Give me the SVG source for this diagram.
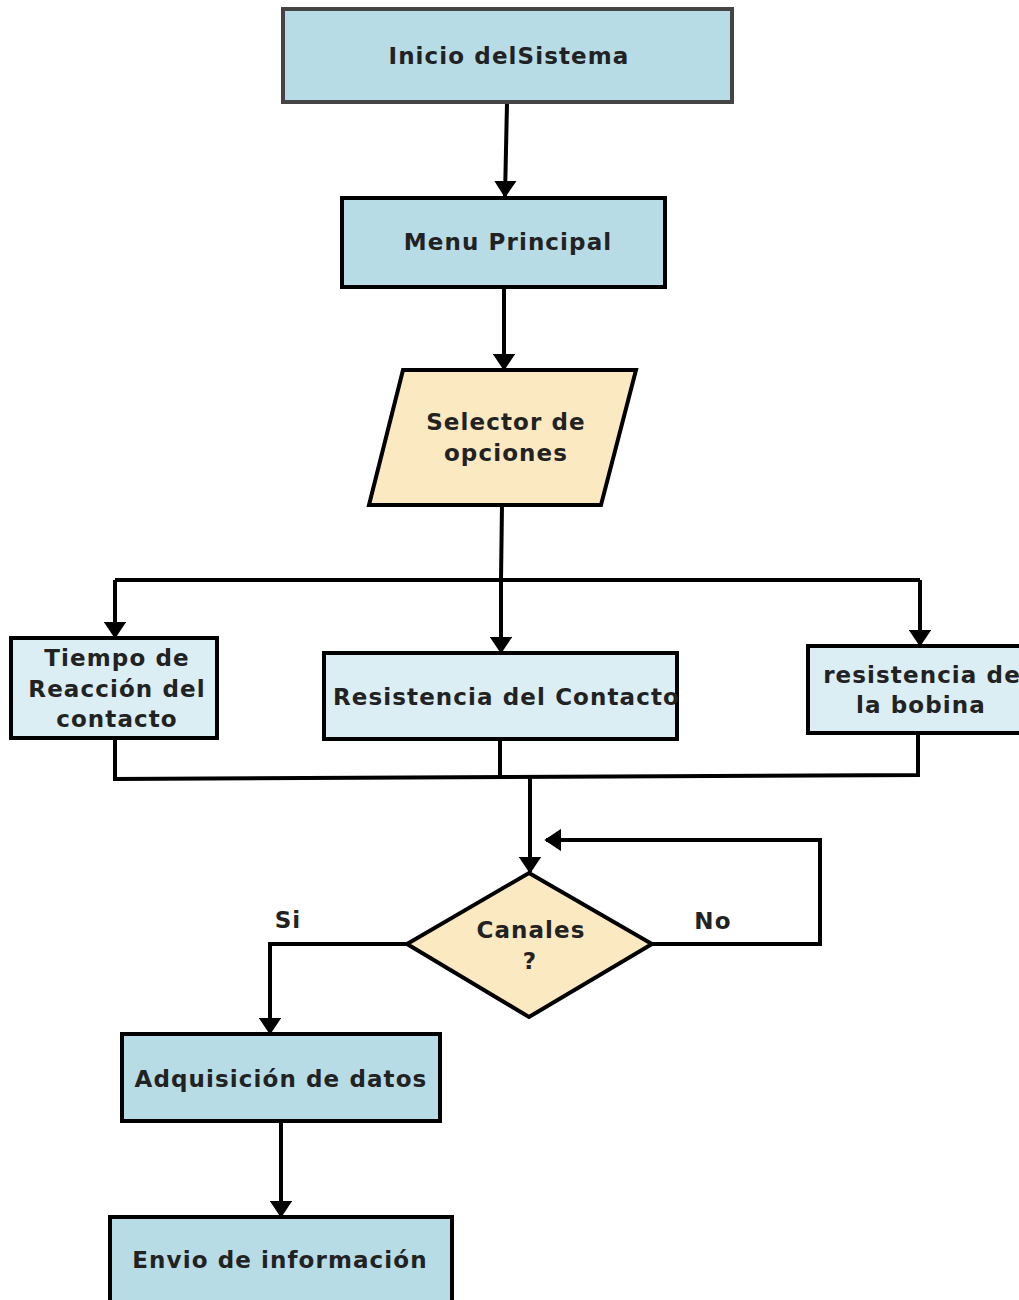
<svg xmlns="http://www.w3.org/2000/svg" width="1019" height="1300" viewBox="0 0 1019 1300">
  <style>
    .lbl { font-family: "DejaVu Sans", Verdana, sans-serif; font-weight: bold; font-size: 23px; letter-spacing: 1.1px; fill: #222; text-anchor: middle; }
    .box { fill: #b7dce6; stroke: #000; stroke-width: 4; }
    .boxl { fill: #daeef4; stroke: #000; stroke-width: 4; }
    .dec { fill: #fbe9c2; stroke: #000; stroke-width: 4; }
    .ln { fill: none; stroke: #000; stroke-width: 4; }
  </style>
  <defs>
    <marker id="arr" viewBox="0 0 10 10" refX="9" refY="5" markerWidth="4.2" markerHeight="5.6" markerUnits="strokeWidth" orient="auto" preserveAspectRatio="none">
      <path d="M0,0 L10,5 L0,10 z" fill="#000"/>
    </marker>
  </defs>
  <rect width="1019" height="1300" fill="#fff"/>

  <g id="connectors">
    <path class="ln" d="M507,103 L505,196" marker-end="url(#arr)"/>
    <path class="ln" d="M504,287 L504,369" marker-end="url(#arr)"/>
    <path class="ln" d="M502,505 L501,580"/>
    <path class="ln" d="M115,580 L920,580"/>
    <path class="ln" d="M115,580 L115,637" marker-end="url(#arr)"/>
    <path class="ln" d="M501,580 L501,652" marker-end="url(#arr)"/>
    <path class="ln" d="M920,580 L920,645" marker-end="url(#arr)"/>
    <path class="ln" d="M115,738 L115,779 L918,775 L918,733"/>
    <path class="ln" d="M500,739 L500,777"/>
    <path class="ln" d="M530,778 L530,872" marker-end="url(#arr)"/>
    <path class="ln" d="M652,944 L820,944 L820,840 L546,840" marker-end="url(#arr)"/>
    <path class="ln" d="M407,944 L270,944 L270,1033" marker-end="url(#arr)"/>
    <path class="ln" d="M281,1121 L281,1216" marker-end="url(#arr)"/>
  </g>

  <g id="inicio">
    <rect x="283" y="9" width="449" height="93" fill="#b7dce6" stroke="#444" stroke-width="4"/>
    <text class="lbl" x="509" y="64">Inicio delSistema</text>
  </g>

  <g id="menu">
    <rect class="box" x="342" y="198" width="323" height="89"/>
    <text class="lbl" x="508" y="250">Menu Principal</text>
  </g>

  <g id="selector">
    <polygon class="dec" points="403,370 636,370 601,505 369,505"/>
    <text class="lbl" x="506" y="430">Selector de</text>
    <text class="lbl" x="506" y="461">opciones</text>
  </g>

  <g id="tiempo">
    <rect class="boxl" x="11" y="638" width="206" height="100"/>
    <text class="lbl" x="117" y="666">Tiempo de</text>
    <text class="lbl" x="117" y="697">Reacción del</text>
    <text class="lbl" x="117" y="727">contacto</text>
  </g>

  <g id="contacto">
    <rect class="boxl" x="324" y="653" width="353" height="86"/>
    <text class="lbl" x="333" y="705" style="text-anchor:start">Resistencia del Contacto</text>
  </g>

  <g id="bobina">
    <rect class="boxl" x="808" y="646" width="216" height="87"/>
    <text class="lbl" x="922" y="683">resistencia de</text>
    <text class="lbl" x="921" y="713">la bobina</text>
  </g>

  <g id="canales">
    <polygon class="dec" points="529,873 652,944 529,1017 407,944"/>
    <text class="lbl" x="531" y="938">Canales</text>
    <text class="lbl" x="530" y="969">?</text>
  </g>

  <g id="labels">
    <text class="lbl" x="288" y="928">Si</text>
    <text class="lbl" x="713" y="929">No</text>
  </g>

  <g id="adquisicion">
    <rect class="box" x="122" y="1034" width="318" height="87"/>
    <text class="lbl" x="281" y="1087">Adquisición de datos</text>
  </g>

  <g id="envio">
    <rect class="box" x="110" y="1217" width="342" height="95"/>
    <text class="lbl" x="280" y="1268">Envio de información</text>
  </g>
</svg>
